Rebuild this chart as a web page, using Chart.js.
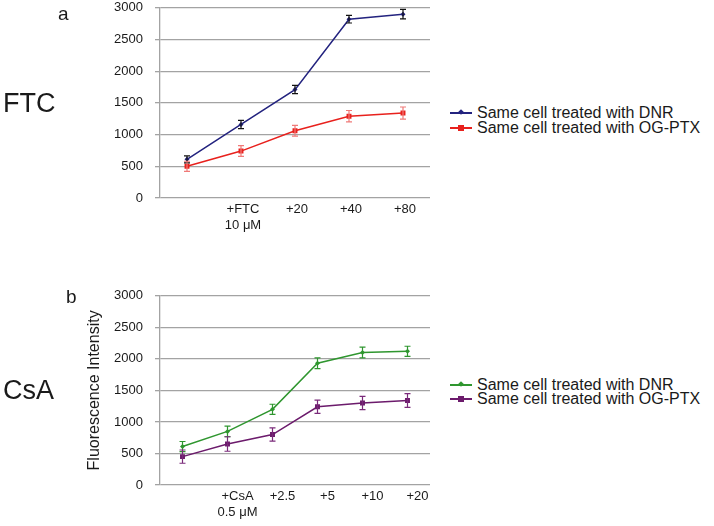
<!DOCTYPE html>
<html>
<head>
<meta charset="utf-8">
<script src="https://cdn.jsdelivr.net/npm/chart.js@4/dist/chart.umd.min.js"></script>
<style>
    body { margin: 0; background: #fff; font-family: 'Liberation Sans', Arial, sans-serif; color: #1a1a1a; }
    #page { position: relative; width: 714px; height: 526px; overflow: hidden; }
    .abs { position: absolute; }
    .big { font-size: 27px; line-height: 1; }
    .panel { font-size: 19px; line-height: 1; }
    .leg { position: absolute; left: 450px; height: 16px; font-size: 16px; line-height: 16px; white-space: nowrap; }
    .leg .ln { position: absolute; left: 0; top: 7px; width: 22px; height: 1.5px; }
    .leg .mk { position: absolute; }
    .leg .tx { position: absolute; left: 27px; top: 0; }
</style>
</head>
<body>
<div id="page">
    <canvas id="ftcChart" class="abs" style="left:0;top:-12px" width="434" height="252"></canvas>
    <canvas id="csaChart" class="abs" style="left:0;top:276px" width="434" height="251"></canvas>

    <div class="abs panel" style="left:58px;top:4px">a</div>
    <div class="abs panel" style="left:66px;top:287px">b</div>
    <div class="abs big" style="left:3px;top:90px">FTC</div>
    <div class="abs big" style="left:3px;top:377px">CsA</div>

    <div class="leg" style="top:105px">
        <span class="ln" style="background:#23237f"></span>
        <span class="mk" style="left:9px;top:5px;width:4px;height:4px;background:#23237f;transform:rotate(45deg)"></span>
        <span class="tx">Same cell treated with DNR</span>
    </div>
    <div class="leg" style="top:120px">
        <span class="ln" style="background:#e8211d"></span>
        <span class="mk" style="left:8px;top:5px;width:6px;height:6px;background:#e8211d"></span>
        <span class="tx">Same cell treated with OG-PTX</span>
    </div>
    <div class="leg" style="top:377px">
        <span class="ln" style="background:#2f962f"></span>
        <span class="mk" style="left:9px;top:5px;width:4px;height:4px;background:#2f962f;transform:rotate(45deg)"></span>
        <span class="tx">Same cell treated with DNR</span>
    </div>
    <div class="leg" style="top:391px">
        <span class="ln" style="background:#6c1b6c"></span>
        <span class="mk" style="left:8px;top:5px;width:6px;height:6px;background:#6c1b6c"></span>
        <span class="tx">Same cell treated with OG-PTX</span>
    </div>
</div>
<script>
// Panel a: FTC
const ftcLabels = ['', ['+FTC', '10 μM'], '+20', '+40', '+80'];
const ftcDnr = [610, 1160, 1710, 2820, 2900];
const ftcDnrErr = [55, 65, 65, 60, 75];
const ftcPtx = [500, 740, 1060, 1290, 1340];
const ftcPtxErr = [80, 85, 85, 90, 95];

// Panel b: CsA
const csaLabels = ['', ['+CsA', '0.5 μM'], '+2.5', '+5', '+10', '+20'];
const csaDnr = [610, 850, 1200, 1930, 2100, 2120];
const csaDnrErr = [80, 85, 80, 85, 85, 80];
const csaPtx = [450, 650, 800, 1240, 1300, 1340];
const csaPtxErr = [105, 115, 105, 105, 105, 110];

const yMin = 0;
const yMax = 3000;
const yStep = 500;

const FONT = "'Liberation Sans', Arial, sans-serif";

// draws +/- error whiskers for every dataset that has an errors array
const errorBars = {
    id: 'errorBars',
    afterDatasetsDraw(chart) {
        const ctx = chart.ctx;
        const y = chart.scales.y;
        chart.data.datasets.forEach((ds, i) => {
            if (!ds.errors) return;
            const meta = chart.getDatasetMeta(i);
            ctx.save();
            ctx.strokeStyle = ds.errorColor;
            ctx.lineWidth = 1.2;
            meta.data.forEach((pt, j) => {
                const v = ds.data[j];
                const e = ds.errors[j];
                const top = y.getPixelForValue(v + e);
                const bot = y.getPixelForValue(v - e);
                ctx.beginPath();
                ctx.moveTo(pt.x, top);
                ctx.lineTo(pt.x, bot);
                ctx.moveTo(pt.x - 3, top);
                ctx.lineTo(pt.x + 3, top);
                ctx.moveTo(pt.x - 3, bot);
                ctx.lineTo(pt.x + 3, bot);
                ctx.stroke();
            });
            ctx.restore();
        });
    }
};

function series(data, errors, color, errColor, square) {
    return {
        data: data,
        errors: errors,
        errorColor: errColor,
        borderColor: color,
        backgroundColor: color,
        borderWidth: 1.5,
        tension: 0,
        pointStyle: square ? 'rect' : 'rectRot',
        pointRadius: square ? 3.5 : 2.5,
        pointBorderWidth: 0,
        fill: false
    };
}

function makeOptions(labelOffset, withTitle) {
    return {
        responsive: false,
        animation: false,
        layout: { padding: 0 },
        plugins: { legend: { display: false }, tooltip: { enabled: false } },
        scales: {
            x: {
                offset: true,
                grid: { display: false, drawTicks: false },
                border: { display: false },
                ticks: {
                    color: '#1a1a1a',
                    padding: 3,
                    labelOffset: labelOffset,
                    maxRotation: 0,
                    autoSkip: false,
                    font: { family: FONT, size: 13, lineHeight: 1.25 }
                },
                afterFit: (scale) => { scale.height = 42; }
            },
            y: {
                min: yMin,
                max: yMax,
                ticks: {
                    stepSize: yStep,
                    color: '#1a1a1a',
                    padding: 12,
                    font: { family: FONT, size: 13 },
                    callback: (v) => String(v)
                },
                grid: { color: '#a3a3a3', lineWidth: 1.3, tickLength: 5 },
                border: { display: true, color: '#a3a3a3', width: 1.3 },
                title: {
                    display: withTitle,
                    text: 'Fluorescence Intensity',
                    color: '#1a1a1a',
                    padding: { top: 85, bottom: 0 },
                    font: { family: FONT, size: 16 }
                },
                afterFit: (scale) => { scale.width = 160; }
            }
        }
    };
}

new Chart(document.getElementById('ftcChart'), {
    type: 'line',
    data: {
        labels: ftcLabels,
        datasets: [
            series(ftcDnr, ftcDnrErr, '#23237f', '#111111', false),
            series(ftcPtx, ftcPtxErr, '#e8211d', '#f07a78', true)
        ]
    },
    options: makeOptions(2, false),
    plugins: [errorBars]
});

new Chart(document.getElementById('csaChart'), {
    type: 'line',
    data: {
        labels: csaLabels,
        datasets: [
            series(csaDnr, csaDnrErr, '#2f962f', '#2f962f', false),
            series(csaPtx, csaPtxErr, '#6c1b6c', '#7a2a7a', true)
        ]
    },
    options: makeOptions(10, true),
    plugins: [errorBars]
});
</script>
</body>
</html>
